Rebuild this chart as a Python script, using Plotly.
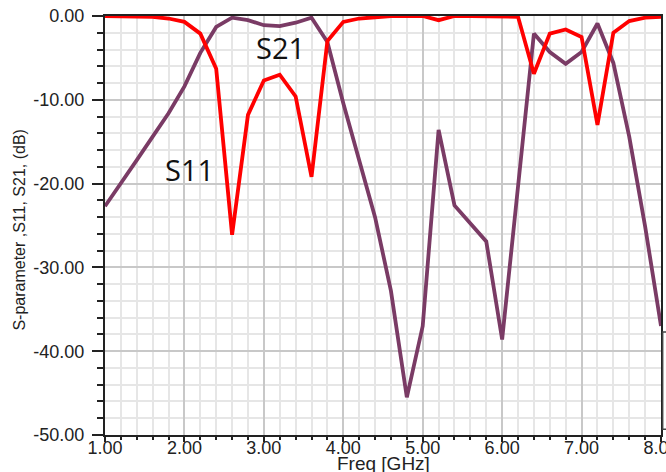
import plotly.graph_objects as go

freq = [1.0, 1.2, 1.4, 1.6, 1.8, 2.0, 2.2, 2.4, 2.6, 2.8, 3.0, 3.2, 3.4, 3.6, 3.8,
        4.0, 4.2, 4.4, 4.6, 4.8, 5.0, 5.2, 5.4, 5.6, 5.8, 6.0, 6.2, 6.4, 6.6, 6.8,
        7.0, 7.2, 7.4, 7.6, 7.8, 8.0]

s11 = [0.0, 0.0, -0.05, -0.1, -0.3, -0.7, -2.1, -6.3, -26.1, -11.8, -7.7, -7.0, -9.6,
       -19.2, -3.0, -0.7, -0.3, -0.1, 0.0, 0.0, 0.0, -0.5, 0.0, 0.0, 0.0, 0.0, -0.1,
       -6.9, -2.1, -1.6, -2.5, -13.0, -2.0, -0.6, -0.2, -0.1]

s21 = [-22.7, -20.0, -17.2, -14.4, -11.6, -8.4, -4.4, -1.3, -0.2, -0.5, -1.1, -1.2, -0.8,
       -0.2, -3.1, -10.4, -17.1, -24.0, -32.8, -45.5, -37.0, -13.6, -22.6, -24.7, -26.9,
       -38.6, -20.0, -2.1, -4.3, -5.7, -4.3, -0.9, -5.6, -14.4, -25.1, -37.0]

x_ticks = [1, 2, 3, 4, 5, 6, 7, 8]
x_tick_labels = ["1.00", "2.00", "3.00", "4.00", "5.00", "6.00", "7.00", "8.00"]
y_ticks = [0, -10, -20, -30, -40, -50]
y_tick_labels = ["0.00", "-10.00", "-20.00", "-30.00", "-40.00", "-50.00"]

RED = "#ff0000"
PURPLE = "#7a3b65"

fig = go.Figure()
fig.add_trace(go.Scatter(x=freq, y=s21, mode="lines", name="S21",
                         line=dict(color=PURPLE, width=3.8), showlegend=False))
fig.add_trace(go.Scatter(x=freq, y=s11, mode="lines", name="S11",
                         line=dict(color=RED, width=3.8), showlegend=False))

tick_font = dict(family="Liberation Sans, Arial, sans-serif", size=18, color="#222222")

fig.update_xaxes(
    range=[1, 8], tickvals=x_ticks, ticktext=x_tick_labels,
    showline=True, linecolor="#222222", linewidth=2, mirror=True,
    ticks="outside", ticklen=5, tickcolor="#222222", tickwidth=1.5,
    showgrid=True, gridcolor="#c8c8c8", gridwidth=1.5,
    minor=dict(dtick=0.2, tick0=1, ticks="outside", ticklen=3, tickcolor="#222222",
               showgrid=True, gridcolor="#e6e6e6", gridwidth=2),
    tickfont=tick_font, zeroline=False, automargin=False,
    ticklabelstandoff=-10, ticklabeloverflow="allow",
)
fig.update_yaxes(
    range=[-50, 0], tickvals=y_ticks, ticktext=y_tick_labels,
    showline=True, linecolor="#222222", linewidth=2, mirror=True,
    ticks="outside", ticklen=11, tickcolor="#222222", tickwidth=1.5,
    showgrid=True, gridcolor="#c8c8c8", gridwidth=1.5,
    minor=dict(dtick=2, tick0=0, ticks="outside", ticklen=6, tickcolor="#222222",
               showgrid=True, gridcolor="#e6e6e6", gridwidth=2),
    tickfont=tick_font, zeroline=False, automargin=False,
    ticklabelstandoff=4, ticklabeloverflow="allow",
)

label_font = dict(family="Open Sans, Noto Sans, sans-serif", size=29, color="#111111")
fig.add_annotation(x=3.21, y=-3.7, text="S21", showarrow=False, font=label_font)
fig.add_annotation(x=2.06, y=-18.3, text="S11", showarrow=False, font=label_font)

fig.add_annotation(xref="paper", yref="paper", x=-0.153, y=0.49, text="S-parameter ,S11, S21, (dB)",
                   textangle=-90, showarrow=False, xanchor="center", yanchor="middle",
                   font=dict(family="Liberation Sans, Arial, sans-serif", size=16, color="#222222"))
fig.add_annotation(xref="paper", yref="paper", x=0.5, y=-0.067, text="Freq [GHz]",
                   showarrow=False, xanchor="center", yanchor="middle",
                   font=dict(family="Liberation Sans, Arial, sans-serif", size=19, color="#222222"))

fig.add_shape(type="rect", xref="paper", yref="paper", x0=1.003, x1=1.03, y0=0.014, y1=0.246,
              line=dict(color="#444444", width=1.5), fillcolor="rgba(0,0,0,0)", layer="above")

fig.update_layout(
    width=666, height=472,
    margin=dict(l=105, r=5, t=16, b=37),
    plot_bgcolor="white", paper_bgcolor="white",
)

fig.write_html("out.html", config={"displayModeBar": False},
               post_script="document.body.style.margin='0';")
